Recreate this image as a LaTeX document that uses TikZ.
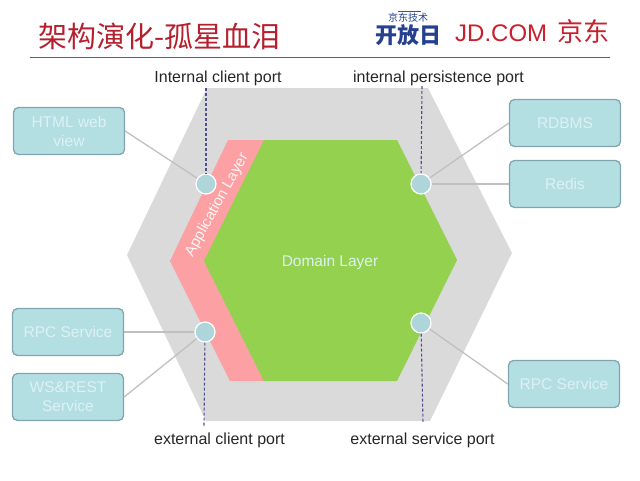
\documentclass[tikz,border=0pt]{standalone}
\usepackage{fontspec}
\usepackage{xcolor}
\setmainfont{Liberation Sans}
\newfontfamily\cjk{Noto Sans CJK SC}
\usetikzlibrary{arrows.meta, positioning, calc}

\definecolor{titlered}{HTML}{B4202E}
\definecolor{rulered}{HTML}{D0303F}
\definecolor{jdred}{HTML}{C8202C}
\definecolor{jdblue}{HTML}{25408F}
\definecolor{hexgray}{HTML}{DBDADB}
\definecolor{apppink}{HTML}{FCA0A3}
\definecolor{domaingreen}{HTML}{93D14F}
\definecolor{boxfill}{HTML}{B3DFE3}
\definecolor{boxline}{HTML}{7FA6AE}
\definecolor{boxtext}{HTML}{DDF1F3}
\definecolor{linkgray}{HTML}{BDC1C0}
\definecolor{dashblue}{HTML}{4F4F8F}

\tikzset{
  service/.style={draw=boxline, fill=boxfill, line width=1.3pt, rounded corners=5pt,
        minimum width=111pt, minimum height=47pt, align=center, inner sep=0pt,
        text=boxtext, font=\fontsize{15.5}{19}\selectfont},
  port/.style={circle, draw=white, fill=boxfill!90!gray, line width=1.2pt,
        minimum size=20pt, inner sep=0pt},
  portlabel/.style={font=\fontsize{16}{18}\selectfont, text=black!85},
  link/.style={draw=linkgray, line width=1.3pt},
  portline/.style={draw=dashblue, line width=1.1pt, dash pattern=on 3pt off 2pt}
}

\begin{document}
\begin{tikzpicture}[x=1pt, y=-1pt]
  \useasboundingbox (0,0) rectangle (640,480);

  % title and logo
  \node[text=titlered, anchor=west, font=\cjk\fontsize{29}{32}\selectfont] (title) at (35,36) {架构演化-孤星血泪};
  \draw[draw=rulered, line width=1.2pt] (30,57.5) -- (610,57.5);
  \node[text=jdblue, font=\cjk\fontsize{10}{11}\selectfont] (logotop) at (408,17.5) {京东技术};
  \node[text=jdblue, font=\cjk\bfseries\fontsize{22}{24}\selectfont] (logomain) at (408.5,35) {开放日};
  \draw[draw=jdred, line width=0.8pt] (398,11) -- (421,11);
  \node[text=jdred, anchor=west, inner sep=0pt, font=\fontsize{24}{26}\selectfont] (jdcom) at (455,33) {JD.COM};
  \node[text=jdred, anchor=west, inner sep=0pt, font=\cjk\fontsize{26}{28}\selectfont] (jdname) at (557,32) {京东};

  % layers
  \fill[hexgray] (207,88) -- (428,88) -- (512,253) -- (430,421) -- (206,421) -- (127,255) -- cycle;
  \fill[apppink] (228,140) -- (264,140) -- (264,381) -- (230,381) -- (170,261) -- cycle;
  \fill[domaingreen] (264,140) -- (397,140) -- (457,260) -- (397,381) -- (264,381) -- (204,261) -- cycle;
  \node[text=boxtext, font=\fontsize{15.5}{18}\selectfont] (domain) at (330,262) {Domain Layer};
  \node[text=white!90!apppink, rotate=61, font=\fontsize{15}{17}\selectfont] (application) at (217,205) {Application Layer};

  % ports
  \node[port] (clientin) at (206,184) {};
  \node[port] (persistin) at (421,184) {};
  \node[port] (clientout) at (205,332) {};
  \node[port] (serviceout) at (421,323) {};

  % outer boxes
  \node[service] (html) at (69,131) {HTML web\\view};
  \node[service] (rdbms) at (565,123) {RDBMS};
  \node[service] (redis) at (565,184) {Redis};
  \node[service] (rpcleft) at (68,332) {RPC Service};
  \node[service] (wsrest) at (68,397) {WS\&REST\\Service};
  \node[service] (rpcright) at (564,384) {RPC Service};

  \draw[link] (html.east) -- (clientin);
  \draw[link] (rdbms.west) -- (persistin);
  \draw[link] (redis.west) -- (persistin);
  \draw[link] (rpcleft.east) -- (clientout);
  \draw[link] (wsrest.east) -- (clientout);
  \draw[link] (rpcright.west) -- (serviceout);

  % port labels
  \node[portlabel] (clientinlabel) at (218,78.5) {Internal client port};
  \node[portlabel] (persistinlabel) at (438.5,78.5) {internal persistence port};
  \node[portlabel] (clientoutlabel) at (219.5,440.5) {external client port};
  \node[portlabel] (serviceoutlabel) at (422.5,440.5) {external service port};

  \coordinate (clientintop) at (206,88);
  \coordinate (persistintop) at (422,86);
  \coordinate (clientoutend) at (204,427);
  \coordinate (serviceoutend) at (423,423);
  \draw[portline] (clientintop) -- (clientin);
  \draw[portline] (persistintop) -- (persistin);
  \draw[portline] (clientout) -- (clientoutend);
  \draw[portline] (serviceout) -- (serviceoutend);
\end{tikzpicture}
\end{document}
